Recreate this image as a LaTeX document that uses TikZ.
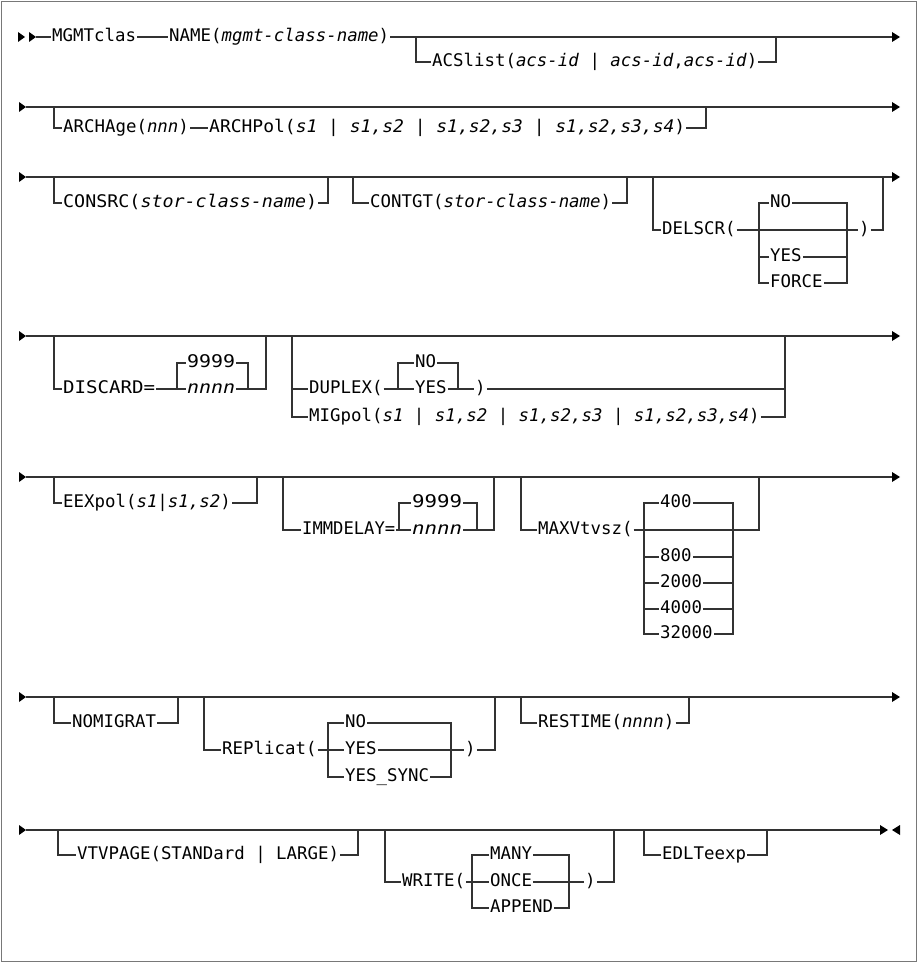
\documentclass[tikz,border=0pt]{standalone}
\usepackage{fontspec}
\usepackage{graphicx}
\setmainfont{DejaVu Sans Mono}
\definecolor{lc}{RGB}{50,50,50}
\definecolor{fc}{RGB}{120,120,120}
\newcommand\va[1]{\textit{#1}}
\newcommand\fw[2]{\resizebox{#1}{\height}{#2}}
\begin{document}
\begin{tikzpicture}[x=1pt,y=-1pt,
  ln/.style={draw=lc,line width=1.1pt},
  lbl/.style={anchor=west,inner xsep=1pt,inner ysep=0pt,text height=13pt,text depth=4pt,
    font=\fontsize{17.4}{20}\selectfont},
  tipr/.style={fill=black}]
\useasboundingbox (0,0) rectangle (919,963);
\draw[fc,line width=1.6pt] (1.5,1.5) rectangle (916.5,961.5);

% ---------- Row 1 ----------
\fill[tipr,shift={(25,37)}] (-7,-5)--(0,0)--(-7,5)--cycle;
\fill[tipr,shift={(36,37)}] (-7,-5)--(0,0)--(-7,5)--cycle;
\fill[tipr,shift={(900,37)}] (-8,-5)--(0,0)--(-8,5)--cycle;
\coordinate (r1s) at (36,37);
\coordinate (r1e) at (892,37);
\node[lbl] (mgmt) at (51,37) {MGMTclas};
\node[lbl] (name) at (168,37) {NAME(\va{mgmt-class-name})};
\draw[ln] (r1s)--(mgmt.west) (mgmt.east)--(name.west) (name.east)--(r1e);
\coordinate (acsA) at (416,37);
\coordinate (acsB) at (776,37);
\node[lbl] (acs) at (431,62) {ACSlist(\va{acs-id} | \va{acs-id},\va{acs-id})};
\draw[ln] (acsA) |- (acs.west);
\draw[ln] (acs.east) -| (acsB);

% ---------- Row 2 ----------
\fill[tipr,shift={(26,107)}] (-7,-5)--(0,0)--(-7,5)--cycle;
\fill[tipr,shift={(900,107)}] (-8,-5)--(0,0)--(-8,5)--cycle;
\coordinate (r2s) at (26,107);
\coordinate (r2e) at (892,107);
\draw[ln] (r2s)--(r2e);
\coordinate (arA) at (54,107);
\coordinate (arB) at (706,107);
\node[lbl] (archage) at (62,128) {ARCHAge(\va{nnn})};
\node[lbl] (archpol) at (208,128) {\fw{476pt}{ARCHPol(\va{s1} | \va{s1,s2} | \va{s1,s2,s3} | \va{s1,s2,s3,s4})}};
\draw[ln] (arA) |- (archage.west);
\draw[ln] (archage.east)--(archpol.west);
\draw[ln] (archpol.east) -| (arB);

% ---------- Row 3 ----------
\fill[tipr,shift={(26,177)}] (-7,-5)--(0,0)--(-7,5)--cycle;
\fill[tipr,shift={(900,177)}] (-8,-5)--(0,0)--(-8,5)--cycle;
\coordinate (r3s) at (26,177);
\coordinate (r3e) at (892,177);
\draw[ln] (r3s)--(r3e);
\coordinate (csA) at (54,177);
\coordinate (csB) at (328,177);
\node[lbl] (consrc) at (62,203) {\fw{254pt}{CONSRC(\va{stor-class-name})}};
\draw[ln] (csA) |- (consrc.west);
\draw[ln] (consrc.east) -| (csB);
\coordinate (ctA) at (353,177);
\coordinate (ctB) at (627,177);
\node[lbl] (contgt) at (369,203) {CONTGT(\va{stor-class-name})};
\draw[ln] (ctA) |- (contgt.west);
\draw[ln] (contgt.east) -| (ctB);
\coordinate (dsA) at (653,177);
\coordinate (dsB) at (883,177);
\node[lbl] (delscr) at (661,230) {DELSCR(};
\node[lbl] (dsrp) at (858,230) {)};
\draw[ln] (dsA) |- (delscr.west);
\draw[ln] (delscr.east)--(dsrp.west);
\draw[ln] (dsrp.east) -| (dsB);
\coordinate (dlt) at (759,203);
\coordinate (drt) at (847,203);
\node[lbl] (dno) at (769,203) {NO};
\node[lbl] (dyes) at (769,257) {YES};
\node[lbl] (dforce) at (769,283) {FORCE};
\draw[ln] (dno.west)--(dlt)--(dlt |- dforce.west)--(dforce.west);
\draw[ln] (dyes.west)--(dyes.west -| dlt);
\draw[ln] (dno.east)--(drt)--(drt |- dforce.east)--(dforce.east);
\draw[ln] (dyes.east)--(dyes.east -| drt);

% ---------- Row 4 ----------
\fill[tipr,shift={(26,336)}] (-7,-5)--(0,0)--(-7,5)--cycle;
\fill[tipr,shift={(900,336)}] (-8,-5)--(0,0)--(-8,5)--cycle;
\coordinate (r4s) at (26,336);
\coordinate (r4e) at (892,336);
\draw[ln] (r4s)--(r4e);
\coordinate (diA) at (54,336);
\coordinate (diB) at (266,336);
\node[lbl] (disc) at (62,389) {\fw{92pt}{DISCARD=}};
\coordinate (dcl) at (177,363);
\coordinate (dcr) at (248,363);
\node[lbl] (dc9) at (186,363) {\fw{48pt}{9999}};
\node[lbl] (dcn) at (186,389) {\fw{48pt}{\va{nnnn}}};
\draw[ln] (diA) |- (disc.west);
\draw[ln] (disc.east)--(dcn.west);
\draw[ln] (dcn.west -| dcl)--(dcl)--(dc9.west);
\draw[ln] (dc9.east)--(dcr)--(dcr |- dcn.east);
\draw[ln] (dcn.east) -| (diB);
\coordinate (mgA) at (292,336);
\coordinate (mgB) at (785,336);
\node[lbl] (dup) at (308,389) {DUPLEX(};
\node[lbl] (mig) at (308,417) {MIGpol(\va{s1} | \va{s1,s2} | \va{s1,s2,s3} | \va{s1,s2,s3,s4})};
\coordinate (upl) at (398,363);
\coordinate (upr) at (458,363);
\node[lbl] (upno) at (414,363) {NO};
\node[lbl] (upyes) at (414,389) {YES};
\node[lbl] (uprp) at (474,389) {)};
\draw[ln] (mgA) |- (mig.west);
\draw[ln] (dup.west -| mgA)--(dup.west);
\draw[ln] (dup.east)--(upyes.west);
\draw[ln] (upyes.west -| upl)--(upl)--(upno.west);
\draw[ln] (upno.east)--(upr)--(upr |- upyes.east);
\draw[ln] (upyes.east)--(uprp.west);
\draw[ln] (uprp.east)--(uprp.east -| mgB);
\draw[ln] (mig.east) -| (mgB);

% ---------- Row 5 ----------
\fill[tipr,shift={(26,477)}] (-7,-5)--(0,0)--(-7,5)--cycle;
\fill[tipr,shift={(900,477)}] (-8,-5)--(0,0)--(-8,5)--cycle;
\coordinate (r5s) at (26,477);
\coordinate (r5e) at (892,477);
\draw[ln] (r5s)--(r5e);
\coordinate (eeA) at (54,477);
\coordinate (eeB) at (257,477);
\node[lbl] (eex) at (62,503) {EEXpol(\va{s1}|\va{s1,s2})};
\draw[ln] (eeA) |- (eex.west);
\draw[ln] (eex.east) -| (eeB);
\coordinate (imA) at (283,477);
\coordinate (imB) at (494,477);
\node[lbl] (imm) at (301,530) {\fw{93pt}{IMMDELAY=}};
\coordinate (iml) at (399,503);
\coordinate (imr) at (477,503);
\node[lbl] (im9) at (411,503) {\fw{50pt}{9999}};
\node[lbl] (imn) at (411,530) {\fw{50pt}{\va{nnnn}}};
\draw[ln] (imA) |- (imm.west);
\draw[ln] (imm.east)--(imn.west);
\draw[ln] (imn.west -| iml)--(iml)--(im9.west);
\draw[ln] (im9.east)--(imr)--(imr |- imn.east);
\draw[ln] (imn.east) -| (imB);
\coordinate (mxA) at (521,477);
\coordinate (mxB) at (759,477);
\node[lbl] (maxv) at (537,530) {MAXVtvsz(};
\coordinate (mxl) at (644,503);
\coordinate (mxr) at (733,503);
\node[lbl] (m400) at (659,503) {400};
\node[lbl] (m800) at (659,557) {800};
\node[lbl] (m2000) at (659,583) {2000};
\node[lbl] (m4000) at (659,609) {4000};
\node[lbl] (m32000) at (659,634) {32000};
\draw[ln] (mxA) |- (maxv.west);
\draw[ln] (maxv.east) -| (mxB);
\draw[ln] (m400.west)--(mxl)--(mxl |- m32000.west)--(m32000.west);
\draw[ln] (m400.east)--(mxr)--(mxr |- m32000.east)--(m32000.east);
\draw[ln] (m800.west -| mxl)--(m800.west) (m800.east)--(m800.east -| mxr);
\draw[ln] (m2000.west -| mxl)--(m2000.west) (m2000.east)--(m2000.east -| mxr);
\draw[ln] (m4000.west -| mxl)--(m4000.west) (m4000.east)--(m4000.east -| mxr);

% ---------- Row 6 ----------
\fill[tipr,shift={(26,697)}] (-7,-5)--(0,0)--(-7,5)--cycle;
\fill[tipr,shift={(900,697)}] (-8,-5)--(0,0)--(-8,5)--cycle;
\coordinate (r6s) at (26,697);
\coordinate (r6e) at (892,697);
\draw[ln] (r6s)--(r6e);
\coordinate (nmA) at (54,697);
\coordinate (nmB) at (178,697);
\node[lbl] (nomig) at (71,723) {NOMIGRAT};
\draw[ln] (nmA) |- (nomig.west);
\draw[ln] (nomig.east) -| (nmB);
\coordinate (rpA) at (204,697);
\coordinate (rpB) at (495,697);
\node[lbl] (repl) at (221,750) {REPlicat(};
\coordinate (rpl) at (328,723);
\coordinate (rpr) at (451,723);
\node[lbl] (rno) at (344,723) {NO};
\node[lbl] (ryes) at (344,750) {YES};
\node[lbl] (rsync) at (344,777) {YES\_SYNC};
\node[lbl] (rrp) at (464,750) {)};
\draw[ln] (rpA) |- (repl.west);
\draw[ln] (repl.east)--(ryes.west);
\draw[ln] (rno.west)--(rpl)--(rpl |- rsync.west)--(rsync.west);
\draw[ln] (rno.east)--(rpr)--(rpr |- rsync.east)--(rsync.east);
\draw[ln] (ryes.east)--(rrp.west);
\draw[ln] (rrp.east) -| (rpB);
\coordinate (rsA) at (521,697);
\coordinate (rsB) at (689,697);
\node[lbl] (rest) at (537,723) {RESTIME(\va{nnnn})};
\draw[ln] (rsA) |- (rest.west);
\draw[ln] (rest.east) -| (rsB);

% ---------- Row 7 ----------
\fill[tipr,shift={(26,830)}] (-7,-5)--(0,0)--(-7,5)--cycle;
\fill[tipr,shift={(888,830)}] (-8,-5)--(0,0)--(-8,5)--cycle;
\fill[tipr,shift={(892,830)}] (8,-5)--(0,0)--(8,5)--cycle;
\coordinate (r7s) at (26,830);
\coordinate (r7e) at (880,830);
\draw[ln] (r7s)--(r7e);
\coordinate (vtA) at (58,830);
\coordinate (vtB) at (358,830);
\node[lbl] (vtv) at (76,855) {VTVPAGE(STANDard | LARGE)};
\draw[ln] (vtA) |- (vtv.west);
\draw[ln] (vtv.east) -| (vtB);
\coordinate (wrA) at (385,830);
\coordinate (wrB) at (614,830);
\node[lbl] (wr) at (401,882) {WRITE(};
\coordinate (wrl) at (472,855);
\coordinate (wrr) at (569,855);
\node[lbl] (wmany) at (489,855) {MANY};
\node[lbl] (wonce) at (489,882) {ONCE};
\node[lbl] (wapp) at (489,908) {APPEND};
\node[lbl] (wrp) at (584,882) {)};
\draw[ln] (wrA) |- (wr.west);
\draw[ln] (wr.east)--(wonce.west);
\draw[ln] (wmany.west)--(wrl)--(wrl |- wapp.west)--(wapp.west);
\draw[ln] (wmany.east)--(wrr)--(wrr |- wapp.east)--(wapp.east);
\draw[ln] (wonce.east)--(wrp.west);
\draw[ln] (wrp.east) -| (wrB);
\coordinate (edA) at (644,830);
\coordinate (edB) at (767,830);
\node[lbl] (edl) at (661,855) {EDLTeexp};
\draw[ln] (edA) |- (edl.west);
\draw[ln] (edl.east) -| (edB);
\end{tikzpicture}
\end{document}
